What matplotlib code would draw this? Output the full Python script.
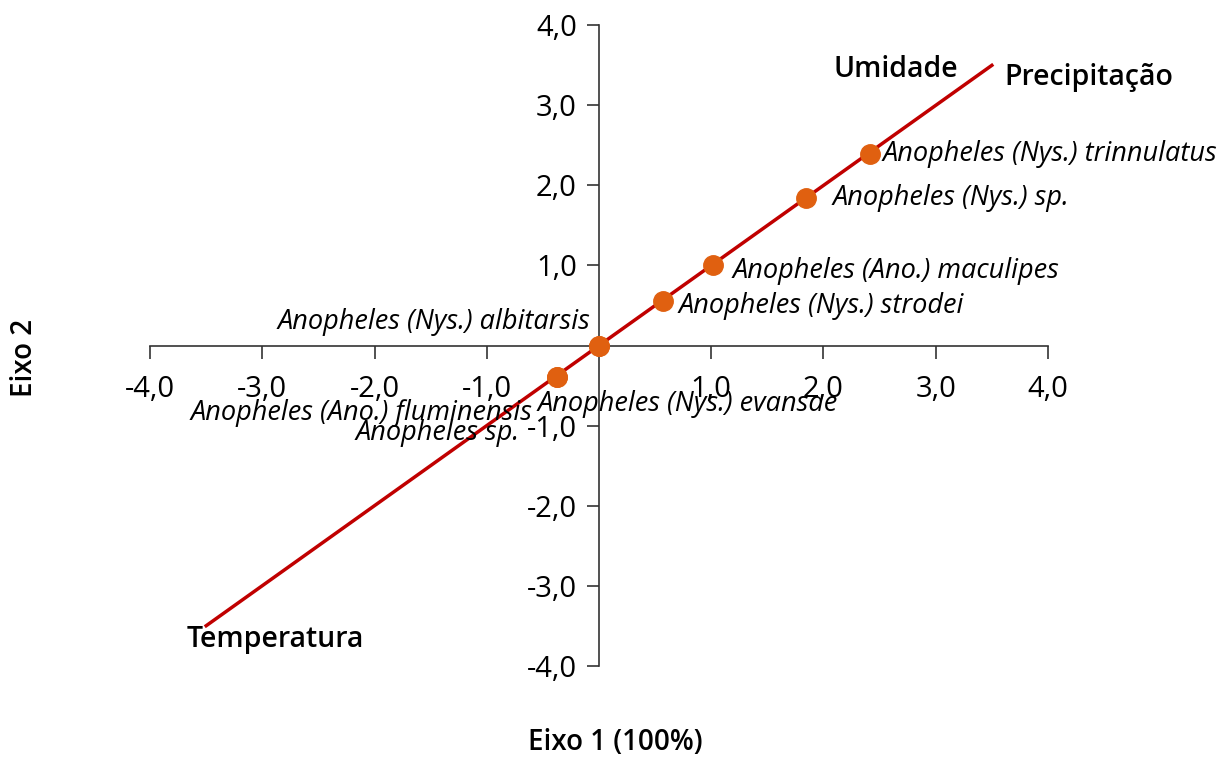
import matplotlib.pyplot as plt
import numpy as np

plt.rcParams['font.family'] = ['Open Sans', 'DejaVu Sans']

# Scores on the two axes
species = ['Anopheles (Nys.) trinnulatus', 'Anopheles (Nys.) sp.', 'Anopheles (Ano.) maculipes',
           'Anopheles (Nys.) strodei', 'Anopheles (Nys.) albitarsis', 'Anopheles (Nys.) evansae',
           'Anopheles (Ano.) fluminensis', 'Anopheles sp.']
eixo1 = [2.41, 1.84, 1.02, 0.57, 0.0, 0.0, -0.37, -0.37]
eixo2 = [2.39, 1.84, 1.01, 0.56, 0.0, 0.0, -0.39, -0.39]

# label anchor positions and alignment
lab_x = [2.53, 2.08, 1.19, 0.71, -0.08, -0.55, -0.59, -0.71]
lab_y = [2.39, 1.84, 0.93, 0.50, 0.29, -0.73, -0.84, -1.09]
lab_ha = ['left', 'left', 'left', 'left', 'right', 'left', 'right', 'right']

# environmental vector
var_line_x = [-3.5, 3.5]
var_line_y = [-3.5, 3.5]
variables = ['Umidade', 'Precipitação', 'Temperatura']
var_x = [2.09, 3.61, -3.67]
var_y = [3.45, 3.35, -3.67]

ticks = [-4, -3, -2, -1, 1, 2, 3, 4]

fig = plt.figure(figsize=(12.3, 7.67), dpi=100)
ax = fig.add_axes([0.122, 0.132, 0.730, 0.835])

ax.plot(var_line_x, var_line_y, color='#c00000', lw=2.5, zorder=2)
ax.plot(eixo1, eixo2, 'o', color='#e06010', ms=14, zorder=3)

for name, x, y, ha in zip(species, lab_x, lab_y, lab_ha):
    ax.text(x, y, name, ha=ha, va='center', fontsize=19.5, style='italic', zorder=4)

for name, x, y in zip(variables, var_x, var_y):
    ax.text(x, y, name, ha='left', va='center', fontsize=20.5, fontweight='semibold')

ax.set_xlim(-4, 4)
ax.set_ylim(-4, 4)
ax.spines['left'].set_position(('data', 0))
ax.spines['bottom'].set_position(('data', 0))
ax.spines['top'].set_visible(False)
ax.spines['right'].set_visible(False)
for s in ['left', 'bottom']:
    ax.spines[s].set_color('#333333')
    ax.spines[s].set_linewidth(1.2)

ax.set_xticks(ticks)
ax.set_yticks(ticks)
labels = [f'{t:.1f}'.replace('.', ',') for t in ticks]
ax.set_xticklabels(labels)
ax.set_yticklabels(labels)
ax.tick_params(axis='both', labelsize=21, length=9, width=1.2, color='#333333')
ax.tick_params(axis='x', pad=12)
ax.tick_params(axis='y', pad=7)

fig.text(0.5, 0.032, 'Eixo 1 (100%)', ha='center', va='center', fontsize=20, fontweight='semibold')
fig.text(0.02, 0.533, 'Eixo 2', ha='center', va='center', rotation=90, fontsize=20, fontweight='semibold')

fig.savefig('out.png', dpi=100)
